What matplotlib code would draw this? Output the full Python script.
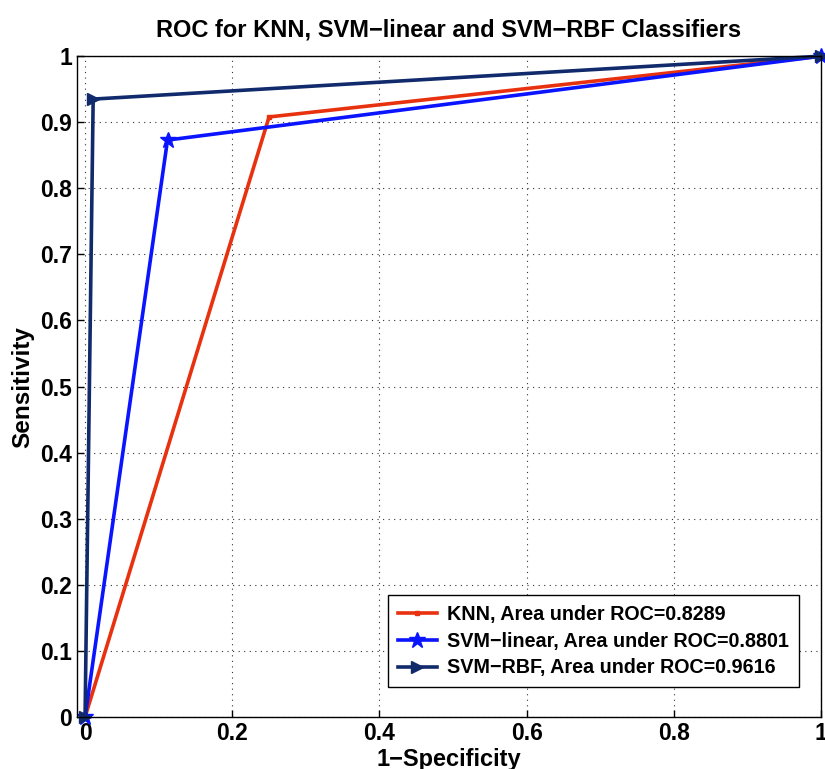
import matplotlib
matplotlib.use("Agg")
import matplotlib.pyplot as plt

plt.rcParams['font.family'] = ['Liberation Sans', 'DejaVu Sans']
plt.rcParams['font.weight'] = 'bold'

# ROC points
knn_fpr = [0, 0.25, 1]
knn_tpr = [0, 0.908, 1]
lin_fpr = [0, 0.112, 1]
lin_tpr = [0, 0.873, 1]
rbf_fpr = [0, 0.011, 1]
rbf_tpr = [0, 0.935, 1]

knn_auc = 0.8289
lin_auc = 0.8801
rbf_auc = 0.9616

xticks = [0, 0.2, 0.4, 0.6, 0.8, 1]
yticks = [0, 0.1, 0.2, 0.3, 0.4, 0.5, 0.6, 0.7, 0.8, 0.9, 1]

fig = plt.figure(figsize=(8.25, 7.69), dpi=100)
ax = fig.add_axes([0.0933, 0.0676, 0.902, 0.8594])

ax.plot(knn_fpr, knn_tpr, color='#e8320f', lw=2.6, marker='s', ms=3,
        label='KNN, Area under ROC=%.4f' % knn_auc)
ax.plot(lin_fpr, lin_tpr, color='#0a14ff', lw=2.6, marker='*', ms=12,
        label='SVM\u2212linear, Area under ROC=%.4f' % lin_auc, clip_on=False)
ax.plot(rbf_fpr, rbf_tpr, color='#102a6c', lw=2.6, marker='>', ms=9,
        label='SVM\u2212RBF, Area under ROC=%.4f' % rbf_auc, clip_on=False)

ax.set_xlim(-0.011, 1)
ax.set_ylim(0, 1)
ax.set_xticks(xticks)
ax.set_xticklabels(['0', '0.2', '0.4', '0.6', '0.8', '1'])
ax.set_yticks(yticks)
ax.set_yticklabels(['0', '0.1', '0.2', '0.3', '0.4', '0.5', '0.6', '0.7', '0.8', '0.9', '1'])
ax.tick_params(direction='in', labelsize=16.5, length=5, width=1)
ax.grid(True, linestyle=(0, (1, 4)), color='#333333', lw=0.8)
for s in ax.spines.values():
    s.set_linewidth(1)

ax.set_xlabel('1\u2212Specificity', fontsize=17, fontweight='bold', labelpad=2)
ax.set_ylabel('Sensitivity', fontsize=17.5, fontweight='bold', labelpad=4)
ax.set_title('ROC for KNN, SVM\u2212linear and SVM\u2212RBF Classifiers',
             fontsize=17, fontweight='bold', pad=14)

leg = ax.legend(loc='lower right', bbox_to_anchor=(0.97, 0.045), fontsize=14.2,
                fancybox=False, edgecolor='black', framealpha=1,
                handlelength=2.0, handletextpad=0.5, borderpad=0.5,
                labelspacing=0.4, borderaxespad=0)
leg.get_frame().set_linewidth(1)

fig.savefig('out.png', dpi=100)
